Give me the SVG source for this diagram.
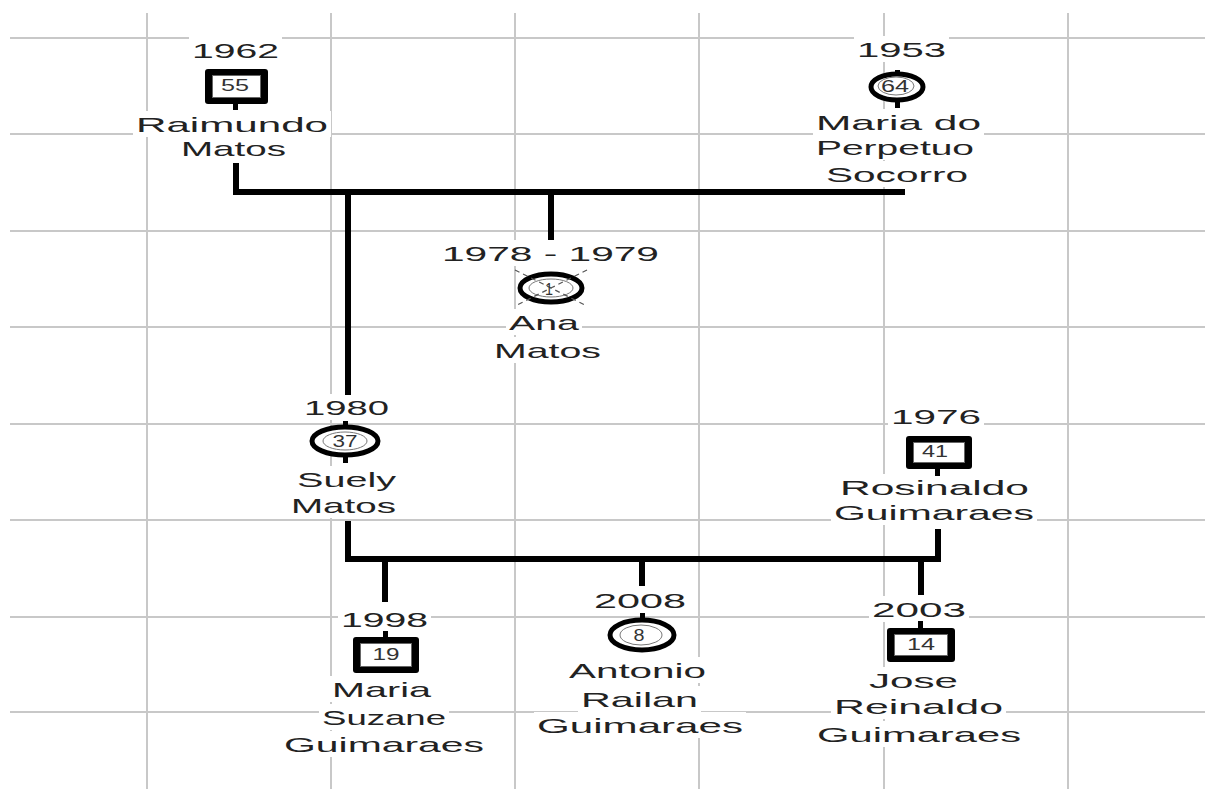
<svg xmlns="http://www.w3.org/2000/svg" width="1205" height="789" viewBox="0 0 1205 789">
<style>
.grid line{stroke:#c8c8c8;stroke-width:2}
.bg{fill:#fff}
.t{font-family:"Liberation Sans",Arial,sans-serif;font-size:21px;fill:#222;text-anchor:middle}
.n{font-family:"Liberation Sans",Arial,sans-serif;font-size:16px;fill:#333;text-anchor:middle}
.conn{stroke:#000;stroke-width:6;fill:none;stroke-linejoin:miter;stroke-linecap:butt}
.frame{fill:#000}
.inner{fill:#fff;stroke:#666;stroke-width:1}
.circ{fill:#fff;stroke:#000;stroke-width:5}
.icirc{fill:none;stroke:#777;stroke-width:1}
.stem{fill:#000}
.x{stroke:#555;stroke-width:1.2;stroke-dasharray:5 4}
</style>
<rect width="1205" height="789" fill="#fff"/>
<g class="grid">
<line x1="147" y1="13" x2="147" y2="789"/>
<line x1="331" y1="13" x2="331" y2="789"/>
<line x1="515" y1="13" x2="515" y2="789"/>
<line x1="699" y1="13" x2="699" y2="789"/>
<line x1="884" y1="13" x2="884" y2="789"/>
<line x1="1068" y1="13" x2="1068" y2="789"/>
<line x1="10" y1="38" x2="1205" y2="38"/>
<line x1="10" y1="134" x2="1205" y2="134"/>
<line x1="10" y1="231" x2="1205" y2="231"/>
<line x1="10" y1="327" x2="1205" y2="327"/>
<line x1="10" y1="424" x2="1205" y2="424"/>
<line x1="10" y1="520" x2="1205" y2="520"/>
<line x1="10" y1="617" x2="1205" y2="617"/>
<line x1="10" y1="712" x2="1205" y2="712"/>
</g>
<g id="label-backgrounds" class="bg">
<rect x="189" y="37" width="93" height="26"/><rect x="133" y="111" width="198" height="26"/><rect x="178" y="135" width="111" height="26"/>
<rect x="854" y="36" width="95" height="26"/><rect x="813" y="109" width="171" height="26"/><rect x="813" y="134" width="164" height="26"/><rect x="823" y="161" width="148" height="26"/>
<rect x="439" y="240" width="223" height="26"/><rect x="506" y="309" width="76" height="26"/><rect x="491" y="337" width="113" height="26"/>
<rect x="301" y="394" width="91" height="26"/><rect x="294" y="466" width="105" height="26"/><rect x="288" y="492" width="111" height="26"/>
<rect x="888" y="403" width="96" height="26"/><rect x="837" y="474" width="195" height="26"/><rect x="831" y="499" width="206" height="26"/>
<rect x="338" y="606" width="93" height="26"/><rect x="329" y="676" width="105" height="26"/><rect x="319" y="704" width="130" height="26"/><rect x="281" y="731" width="206" height="26"/>
<rect x="591" y="587" width="98" height="26"/><rect x="566" y="657" width="143" height="26"/><rect x="578" y="686" width="123" height="26"/><rect x="534" y="712" width="212" height="26"/>
<rect x="869" y="596" width="100" height="26"/><rect x="866" y="667" width="95" height="26"/><rect x="831" y="693" width="175" height="26"/><rect x="814" y="721" width="210" height="26"/>
</g>
<g id="connectors" class="conn">
<path d="M236 163 V192 H905"/>
<path d="M348 192 V395"/>
<path d="M551 192 V240"/>
<path d="M348 521 V559 H938 V529"/>
<path d="M385 559 V602"/>
<path d="M642 559 V586"/>
<path d="M921 559 V595"/>
</g>
<g id="raimundo">
<rect class="frame" x="205" y="69" width="63" height="35" rx="3"/>
<rect class="inner" x="212.5" y="75.5" width="48" height="22"/>
<rect class="stem" x="233" y="103" width="5" height="7"/>
<text class="n" x="235" y="91" textLength="28" lengthAdjust="spacingAndGlyphs">55</text>
<text class="t" x="235.5" y="58" textLength="87" lengthAdjust="spacingAndGlyphs">1962</text>
<text class="t" x="232" y="132" textLength="192" lengthAdjust="spacingAndGlyphs">Raimundo</text>
<text class="t" x="233.5" y="156" textLength="105" lengthAdjust="spacingAndGlyphs">Matos</text>
</g>
<g id="maria-perpetuo">
<rect class="stem" x="895" y="99" width="5" height="9"/>
<rect class="stem" x="895" y="70" width="5" height="5"/>
<ellipse class="circ" cx="897" cy="87" rx="26" ry="13"/>
<ellipse class="icirc" cx="896" cy="86" rx="18" ry="9"/>
<text class="n" x="895" y="92" textLength="28" lengthAdjust="spacingAndGlyphs">64</text>
<text class="t" x="901.5" y="57" textLength="89" lengthAdjust="spacingAndGlyphs">1953</text>
<text class="t" x="898.5" y="130" textLength="165" lengthAdjust="spacingAndGlyphs">Maria do</text>
<text class="t" x="895" y="155" textLength="158" lengthAdjust="spacingAndGlyphs">Perpetuo</text>
<text class="t" x="897" y="182" textLength="142" lengthAdjust="spacingAndGlyphs">Socorro</text>
</g>
<g id="ana">
<ellipse class="circ" cx="551" cy="288" rx="31" ry="14"/>
<ellipse class="icirc" cx="551" cy="288" rx="22" ry="9"/>
<line class="x" x1="515" y1="270" x2="587" y2="306"/>
<line class="x" x1="587" y1="270" x2="515" y2="306"/>
<text class="n" x="549" y="295" textLength="8" lengthAdjust="spacingAndGlyphs">1</text>
<text class="t" x="550.5" y="261" textLength="217" lengthAdjust="spacingAndGlyphs">1978 - 1979</text>
<text class="t" x="544" y="330" textLength="70" lengthAdjust="spacingAndGlyphs">Ana</text>
<text class="t" x="547.5" y="358" textLength="107" lengthAdjust="spacingAndGlyphs">Matos</text>
</g>
<g id="suely">
<rect class="stem" x="343" y="421" width="5" height="6"/>
<rect class="stem" x="343" y="455" width="5" height="8"/>
<ellipse class="circ" cx="345" cy="441" rx="33" ry="14"/>
<ellipse class="icirc" cx="345" cy="441" rx="22" ry="9"/>
<text class="n" x="345" y="447" textLength="25" lengthAdjust="spacingAndGlyphs">37</text>
<text class="t" x="346.5" y="415" textLength="85" lengthAdjust="spacingAndGlyphs">1980</text>
<text class="t" x="346.5" y="487" textLength="99" lengthAdjust="spacingAndGlyphs">Suely</text>
<text class="t" x="343.5" y="513" textLength="105" lengthAdjust="spacingAndGlyphs">Matos</text>
</g>
<g id="rosinaldo">
<rect class="frame" x="906" y="436" width="66" height="33" rx="3"/>
<rect class="inner" x="913.5" y="442.5" width="51" height="20"/>
<rect class="stem" x="935" y="468" width="5" height="8"/>
<text class="n" x="935" y="457" textLength="26" lengthAdjust="spacingAndGlyphs">41</text>
<text class="t" x="936" y="424" textLength="90" lengthAdjust="spacingAndGlyphs">1976</text>
<text class="t" x="934.5" y="495" textLength="189" lengthAdjust="spacingAndGlyphs">Rosinaldo</text>
<text class="t" x="934" y="520" textLength="200" lengthAdjust="spacingAndGlyphs">Guimaraes</text>
</g>
<g id="maria-suzane">
<rect class="stem" x="383" y="631" width="5" height="7"/>
<rect class="frame" x="353" y="637" width="66" height="36" rx="3"/>
<rect class="inner" x="360.5" y="643.5" width="51" height="23"/>
<text class="n" x="386" y="660" textLength="27" lengthAdjust="spacingAndGlyphs">19</text>
<text class="t" x="384.5" y="627" textLength="87" lengthAdjust="spacingAndGlyphs">1998</text>
<text class="t" x="381.5" y="697" textLength="99" lengthAdjust="spacingAndGlyphs">Maria</text>
<text class="t" x="384" y="725" textLength="124" lengthAdjust="spacingAndGlyphs">Suzane</text>
<text class="t" x="384" y="752" textLength="200" lengthAdjust="spacingAndGlyphs">Guimaraes</text>
</g>
<g id="antonio">
<rect class="stem" x="640" y="613" width="5" height="7"/>
<ellipse class="circ" cx="642" cy="635" rx="32" ry="15"/>
<ellipse class="icirc" cx="641" cy="635" rx="21" ry="10"/>
<text class="n" x="639" y="641" font-size="14" textLength="11" lengthAdjust="spacingAndGlyphs">8</text>
<text class="t" x="640" y="608" textLength="92" lengthAdjust="spacingAndGlyphs">2008</text>
<text class="t" x="637.5" y="678" textLength="137" lengthAdjust="spacingAndGlyphs">Antonio</text>
<text class="t" x="639.5" y="707" textLength="117" lengthAdjust="spacingAndGlyphs">Railan</text>
<text class="t" x="640" y="733" textLength="206" lengthAdjust="spacingAndGlyphs">Guimaraes</text>
</g>
<g id="jose">
<rect class="stem" x="918" y="621" width="5" height="8"/>
<rect class="frame" x="887" y="628" width="68" height="34" rx="3"/>
<rect class="inner" x="894.5" y="634.5" width="53" height="21"/>
<text class="n" x="921" y="650" textLength="28" lengthAdjust="spacingAndGlyphs">14</text>
<text class="t" x="919" y="617" textLength="94" lengthAdjust="spacingAndGlyphs">2003</text>
<text class="t" x="913.5" y="688" textLength="89" lengthAdjust="spacingAndGlyphs">Jose</text>
<text class="t" x="918.5" y="714" textLength="169" lengthAdjust="spacingAndGlyphs">Reinaldo</text>
<text class="t" x="919" y="742" textLength="204" lengthAdjust="spacingAndGlyphs">Guimaraes</text>
</g>
</svg>
